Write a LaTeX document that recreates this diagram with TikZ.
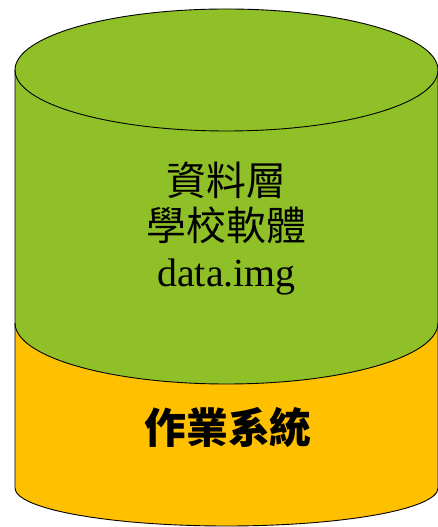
\documentclass[tikz,border=0pt]{standalone}
\usepackage{fontspec}
\setmainfont{Liberation Serif}
\newfontfamily\cjk{Noto Sans CJK TC}
\usepackage{xcolor}
\usepackage{tikz}

\definecolor{datagreen}{HTML}{8FC028}
\definecolor{osorange}{HTML}{FFC000}

\begin{document}
\begin{tikzpicture}[x=1bp,y=1bp,line width=0.9bp,
    label/.style={inner sep=0pt,font=\fontsize{40}{48}\selectfont}]
    \useasboundingbox (0,0) rectangle (438,527);
    % define coordinates
    \coordinate (T) at (15,457) ;
    \coordinate (M) at (15,204) ;
    \coordinate (B) at (15,39) ;
    % layers
    \fill[osorange] (M) -- (B) arc[start angle=180,end angle=360,x radius=211.5bp,y radius=38bp] -- (438,204) -- cycle;
    \fill[datagreen] (T) -- (M) arc[start angle=180,end angle=360,x radius=211.5bp,y radius=61bp] -- (438,457) -- cycle;
    \draw[fill=datagreen] (226.5,457) ellipse [x radius=211.5bp,y radius=61bp];
    \draw (T) -- (B) arc[start angle=180,end angle=360,x radius=211.5bp,y radius=38bp] -- (438,457);
    \draw (M) arc[start angle=180,end angle=360,x radius=211.5bp,y radius=61bp];
    % texts
    \node[label] (layer) at (226.5,347) {\cjk 資料層};
    \node[label] (soft) at (226.5,302) {\cjk 學校軟體};
    \node[label] (img) at (226.5,250) {data.img};
    \node[label,font=\fontsize{42}{50}\selectfont\cjk\bfseries] (os) at (228,100) {作業系統};
\end{tikzpicture}
\end{document}
